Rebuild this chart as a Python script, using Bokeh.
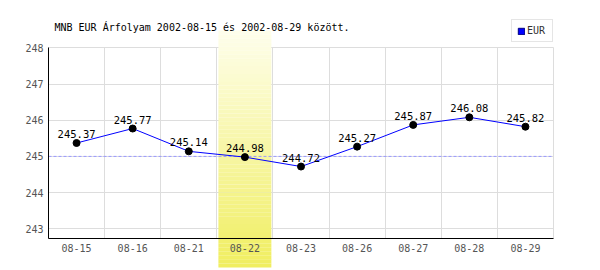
from bokeh.plotting import figure
from bokeh.models import (Range1d, LinearAxis, FixedTicker, Grid, Label, Legend,
                          LegendItem, ColumnDataSource)
from bokeh.core.properties import value
from bokeh.embed import file_html
from bokeh.resources import INLINE

# ---- data ----
dates = ["08-15", "08-16", "08-21", "08-22", "08-23", "08-26", "08-27", "08-28", "08-29"]
eur = [245.37, 245.77, 245.14, 244.98, 244.72, 245.27, 245.87, 246.08, 245.82]
y_ticks = [243, 244, 245, 246, 247, 248]
ref_level = 245
highlight = "08-22"
title_text = "MNB EUR Árfolyam 2002-08-15 és 2002-08-29 között."
series_name = "EUR"

# ---- layout constants ----
W, H = 600, 270
left_px, right_px = 48, 553
top_px, px_243 = 47.3, 228.3
axis_px = 238
n = len(dates)
xu = (right_px - left_px) / n
yu = (px_243 - top_px) / (y_ticks[-1] - y_ticks[0])
x0 = -0.5 - left_px / xu
x1 = n - 0.5 + (W - right_px) / xu
y_top = y_ticks[-1] + top_px / yu
y_bot = y_ticks[0] - (H - px_243) / yu
y_axis = y_ticks[0] - (axis_px - px_243) / yu

FONT = "DejaVu Sans Mono"

p = figure(width=W, height=H, output_backend="svg", toolbar_location=None,
           x_axis_type=None, y_axis_type=None, min_border=0,
           x_range=Range1d(x0, x1), y_range=Range1d(y_bot, y_top))
p.outline_line_color = None
p.background_fill_color = "white"
p.border_fill_color = "white"

# grids
vg = Grid(dimension=0, ticker=FixedTicker(ticks=[i + 0.5 for i in range(n)]),
          grid_line_color="#dddddd", cross_bounds=(y_axis, y_ticks[-1]))
hg = Grid(dimension=1, ticker=FixedTicker(ticks=y_ticks),
          grid_line_color="#dddddd", cross_bounds=(-0.5, n - 0.5))
p.add_layout(vg)
p.add_layout(hg)

# highlight band with vertical gradient
hi = dates.index(highlight)
band_top = y_ticks[-1] + (top_px - 30) / yu
band_bot = y_ticks[0] - (267 - px_243) / yu
steps = 60
c_top = (254, 254, 236)
c_bot = (240, 238, 96)
bl, br, bb, bt, bc = [], [], [], [], []
for k in range(steps):
    f0 = k / steps
    f1 = (k + 1) / steps
    ya = band_top - (band_top - band_bot) * f0
    yb = band_top - (band_top - band_bot) * f1
    fm = (f0 + f1) / 2
    col = tuple(int(round(c_top[j] + (c_bot[j] - c_top[j]) * fm)) for j in range(3))
    bl.append(hi - 0.472); br.append(hi + 0.472)
    bt.append(ya); bb.append(yb - 0.001)
    bc.append("#%02x%02x%02x" % col)
p.quad(left=bl, right=br, top=bt, bottom=bb, fill_color=bc, line_color=None)

# reference dashed line
p.line(x=[-0.5, n - 0.5], y=[ref_level, ref_level], line_color="#9999ff",
       line_dash="3 2", line_width=1)

# axes
xaxis = LinearAxis(fixed_location=y_axis, ticker=FixedTicker(ticks=list(range(n))),
                   major_label_overrides={i: d for i, d in enumerate(dates)},
                   bounds=(-0.5, n - 0.5))
yaxis = LinearAxis(fixed_location=-0.5, ticker=FixedTicker(ticks=y_ticks),
                   bounds=(y_axis, y_ticks[-1]))
for ax in (xaxis, yaxis):
    ax.axis_line_color = "black"
    ax.axis_line_width = 1
    ax.major_tick_out = 0
    ax.major_tick_in = 0
    ax.minor_tick_out = 0
    ax.minor_tick_in = 0
    ax.major_label_text_font = FONT
    ax.major_label_text_font_size = "10px"
    ax.major_label_text_color = "#555555"
xaxis.major_label_standoff = 5
yaxis.major_label_standoff = 5
p.add_layout(xaxis, "below")
p.add_layout(yaxis, "left")

# series
xs = list(range(n))
src = ColumnDataSource(dict(x=xs, y=eur, lbl=[f"{v:.2f}" for v in eur]))
p.line("x", "y", source=src, line_color="blue", line_width=1)
p.scatter("x", "y", source=src, size=7, fill_color="black", line_color="black")
p.text("x", "y", text="lbl", source=src, text_font=value(FONT),
       text_font_size="10.5px", text_color="black", text_align="center",
       text_baseline="bottom", y_offset=-5)

# legend (zero-size quad used only for its legend swatch)
leg_r = p.quad(left=[0], right=[0], top=[eur[0]], bottom=[eur[0]],
               fill_color="blue", line_color="#000080")
legend = Legend(items=[LegendItem(label=series_name, renderers=[leg_r])],
                location=(511, H - 42), orientation="vertical",
                glyph_width=8, glyph_height=8, label_standoff=2,
                padding=5, spacing=0, margin=0,
                label_text_font=FONT, label_text_font_size="10px",
                label_text_color="#333333",
                border_line_color="#cccccc", background_fill_color="white",
                label_height=9)
p.add_layout(legend, "center")

# title
p.add_layout(Label(x=54, y=H - 26.5, x_units="screen", y_units="screen",
                   text=title_text, text_font=FONT, text_font_size="10px",
                   text_color="black", text_baseline="middle"))

open("out.html", "w").write(file_html(p, INLINE))
